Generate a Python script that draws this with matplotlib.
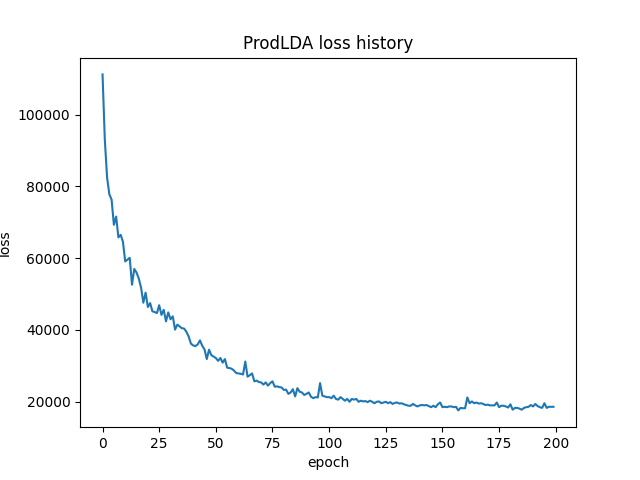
import matplotlib
matplotlib.use("Agg")
import matplotlib.pyplot as plt

loss = [
    111200, 93000, 82500, 77800, 76300, 69300, 71600, 65800, 66500, 64600,
    59100, 59600, 60100, 52600, 57000, 56000, 54300, 51800, 47600, 50400,
    46400, 47500, 45200, 45000, 44700, 46900, 44200, 45600, 42400, 44900,
    43000, 43800, 40100, 41500, 41000, 40500, 40400, 39500, 38200, 36200,
    35700, 35500, 36000, 37100, 35600, 34600, 31900, 34500, 33000, 32600,
    32200, 31400, 32200, 30900, 31900, 29500, 29400, 29200, 28700, 28000,
    27900, 27800, 27600, 31200, 27000, 27400, 27900, 25700, 25900, 25500,
    25400, 24800, 25400, 24500, 25200, 25700, 24200, 24300, 24100, 24000,
    23300, 23400, 22200, 22600, 23500, 21500, 23800, 22800, 22600, 21900,
    22200, 22600, 21400, 21000, 21300, 21200, 25200, 21700, 21500, 21300,
    21300, 21000, 21700, 20800, 20600, 21300, 20800, 20300, 20800, 20000,
    20800, 20600, 20800, 20000, 20300, 20100, 20200, 19900, 20300, 20000,
    19600, 20000, 20100, 19600, 19800, 20000, 19600, 19900, 19400, 19700,
    19800, 19500, 19600, 19300, 19100, 18900, 18900, 19400, 19000, 18700,
    19000, 19100, 19000, 19100, 18800, 18500, 18900, 18500, 19300, 19800,
    18500, 18600, 18500, 18700, 18700, 18500, 18600, 17600, 18300, 18200,
    18200, 21200, 19600, 20100, 19600, 19800, 19500, 19600, 19400, 19100,
    19200, 19000, 19000, 19000, 19800, 18500, 18900, 18900, 18700, 18400,
    19300, 17800, 18300, 18300, 18100, 17800, 18300, 18500, 18600, 19100,
    18700, 19400, 18800, 18500, 18300, 19600, 18300, 18600, 18600, 18600,
]
epochs = list(range(len(loss)))

fig, ax = plt.subplots(figsize=(6.4, 4.8), dpi=100)
ax.plot(epochs, loss)
ax.set_title("ProdLDA loss history")
ax.set_xlabel("epoch")
ax.set_ylabel("loss")
fig.savefig("out.png")
